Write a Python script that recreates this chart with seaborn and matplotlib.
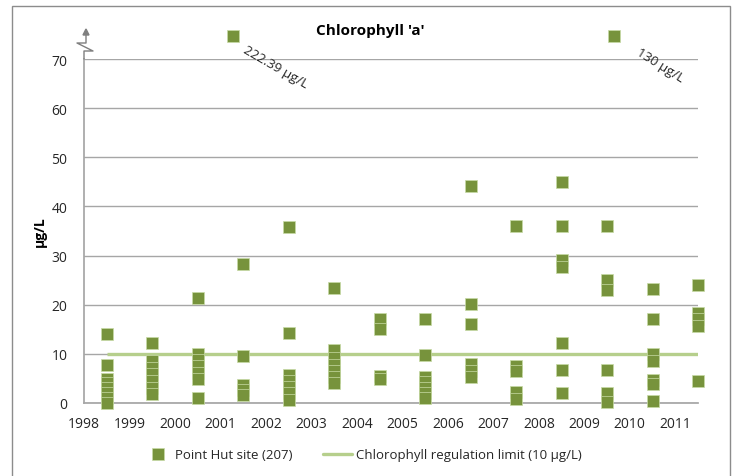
import numpy as np
import pandas as pd
import seaborn as sns
import matplotlib.pyplot as plt
from matplotlib.lines import Line2D
from matplotlib.patches import Rectangle

# chlorophyll 'a' samples per year (µg/L)
years = [1998, 1999, 2000, 2001, 2002, 2003, 2004,
         2005, 2006, 2007, 2008, 2009, 2010, 2011]
samples = {
    1998: [14.0, 7.8, 4.9, 4.0, 3.0, 2.0, 1.0, 0.1],
    1999: [12.2, 8.6, 7.2, 5.8, 4.4, 3.0, 1.8],
    2000: [21.4, 10.0, 8.8, 7.6, 6.2, 4.9, 1.0],
    2001: [28.3, 9.5, 3.7, 2.6, 1.6],
    2002: [35.8, 14.2, 5.6, 4.4, 3.2, 2.0, 0.7],
    2003: [23.4, 10.7, 9.2, 7.8, 6.5, 5.2, 4.1],
    2004: [17.1, 15.1, 5.5, 4.9],
    2005: [17.1, 9.8, 5.3, 4.2, 3.1, 2.0, 1.0],
    2006: [44.2, 20.1, 16.1, 7.9, 6.6, 5.3],
    2007: [36.0, 7.5, 6.6, 2.3, 0.8],
    2008: [45.0, 36.0, 29.1, 27.7, 12.2, 6.7, 2.0],
    2009: [36.0, 25.1, 22.9, 6.7, 2.0, 0.3],
    2010: [23.1, 17.1, 10.0, 8.6, 4.7, 3.9, 0.5],
    2011: [24.0, 18.3, 17.0, 15.7, 4.5],
}
# off-scale values shown above the axis break
outlier_years = [2001, 2009]
outlier_values = [222.39, 130]
outlier_labels = ['222.39 µg/L', '130 µg/L']
limit = 10

rows = [(y + 0.5, v) for y in years for v in samples[y]]
df = pd.DataFrame(rows, columns=['year', 'chla'])

sns.set_theme(style='white')
plt.rcParams['font.family'] = ['Open Sans', 'DejaVu Sans']

green = '#77933c'
light = '#b6cf8c'
grid_c = '#a6a6a6'
txt = '#262626'

fig = plt.figure(figsize=(7.37, 4.77), dpi=100)
W, H = 737, 477
ax = fig.add_axes([84 / W, (H - 404) / H, 614 / W, 344 / H])

ax.set_xlim(1998, 2011.5)
ax.set_ylim(0, 70)
ax.set_yticks(range(0, 71, 10))
ax.set_xticks(years)
ax.set_xticklabels([])
ax.yaxis.grid(True, color=grid_c, lw=1)
ax.set_axisbelow(True)
for s in ['top', 'right']:
    ax.spines[s].set_visible(False)
ax.spines['left'].set_color(grid_c)
ax.spines['bottom'].set_color(grid_c)
ax.tick_params(axis='both', length=0, labelsize=10, colors=txt)
ax.tick_params(axis='y', pad=12)

# year labels on a common baseline
for y in years:
    ax.annotate(str(y), xy=(y, 0), xycoords=('data', 'axes fraction'),
                xytext=(0, -24), textcoords='offset pixels',
                ha='center', va='baseline', fontsize=10, color=txt)

# regulation limit
ax.plot([years[0] + 0.5, years[-1] + 0.5], [limit, limit], color=light, lw=2.4,
        zorder=2, solid_capstyle='butt')

sns.scatterplot(data=df, x='year', y='chla', marker='s', s=80, color=green,
                edgecolor='#c8dba6', linewidth=0.5, ax=ax, zorder=3, clip_on=False)

# outliers drawn above the break
ox = [2001.27, 2009.65]
ax.scatter(ox, [74.7, 74.7], marker='s', s=80, color=green,
           edgecolor='#c8dba6', linewidth=0.5, clip_on=False, zorder=3)
ax.text((276 - 84) / 614 * 13.5 + 1998, (404 - 67) / 344 * 70, outlier_labels[0],
        rotation=-30, ha='center', va='center', fontsize=9.5, color=txt,
        rotation_mode='anchor')
ax.text((660 - 84) / 614 * 13.5 + 1998, (404 - 66) / 344 * 70, outlier_labels[1],
        rotation=-32, ha='center', va='center', fontsize=9.5, color=txt,
        rotation_mode='anchor')

ax.set_xlabel('')
ax.set_ylabel('')

# axis break symbol above the y axis
def fx(px):
    return px / W

def fy(py):
    return 1 - py / H

fig.add_artist(Line2D([fx(84), fx(84), fx(93), fx(77), fx(86), fx(86)],
                      [fy(60), fy(52), fy(52), fy(44), fy(44), fy(35)],
                      color='#7f7f7f', lw=1))
fig.patches.append(plt.Polygon([[fx(83), fy(36)], [fx(89), fy(36)], [fx(86), fy(30)]],
                               closed=True, color='#7f7f7f', transform=fig.transFigure))

fig.text(370 / W, 1 - 31 / H, "Chlorophyll 'a'", ha='center', va='center',
         fontsize=11, fontweight='bold', color='#000000')
fig.text(40 / W, 1 - 232 / H, 'µg/L', rotation=90, ha='center', va='center',
         fontsize=10, fontweight='bold', color='#000000')

# outer frame
fig.patches.append(Rectangle((fx(12), fy(490)), fx(730) - fx(12), fy(7) - fy(490),
                             fill=False, edgecolor='#8c8c8c', lw=1,
                             transform=fig.transFigure))

handles = [
    Line2D([], [], marker='s', ls='none', color=green, markersize=8,
           markeredgecolor='#c8dba6', markeredgewidth=0.5),
    Line2D([], [], color=light, lw=2.4),
]
fig.legend(handles, ['Point Hut site (207)', 'Chlorophyll regulation limit (10 µg/L)'],
           loc='center left', bbox_to_anchor=(143 / W, 1 - 456 / H), ncol=2,
           frameon=False, fontsize=9.5, handlelength=2.2, columnspacing=2.3,
           handletextpad=0.25, borderpad=0, borderaxespad=0, labelcolor=txt)

fig.savefig('out.png', dpi=100)
